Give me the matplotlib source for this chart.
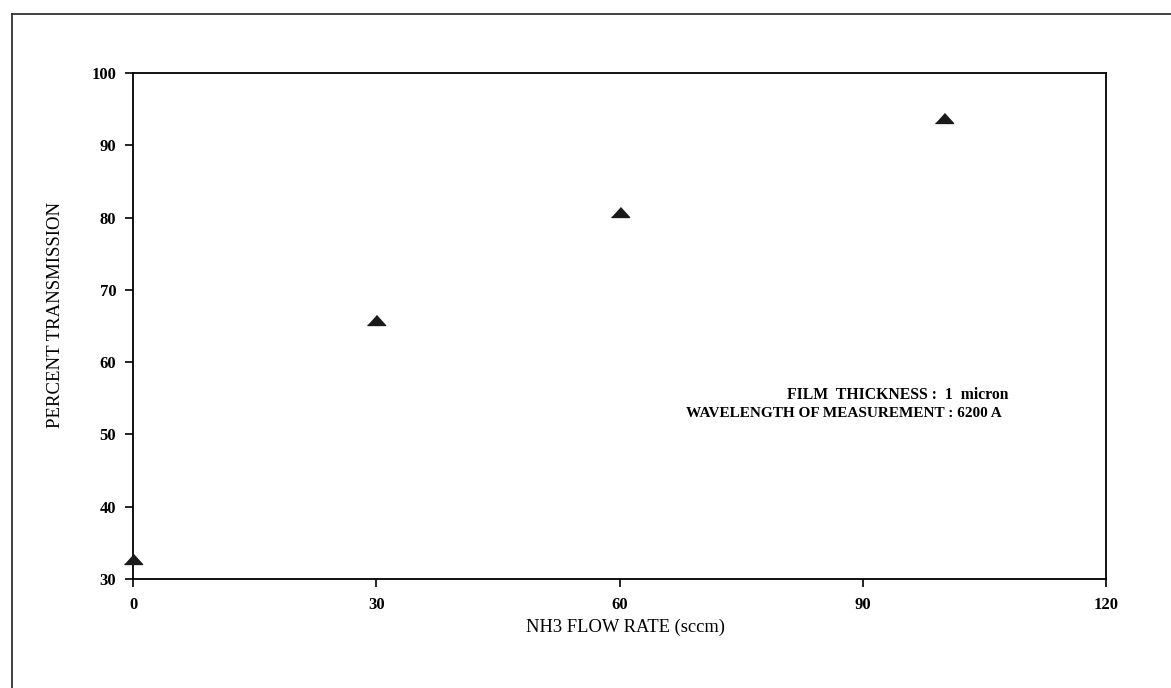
import matplotlib
matplotlib.use("Agg")
import matplotlib.pyplot as plt
from matplotlib.lines import Line2D

# NH3 flow rate (sccm) and measured percent transmission
flow_rate = [0, 30, 60, 100]
transmission = [32.7, 65.8, 80.8, 93.8]

x_ticks = [0, 30, 60, 90, 120]
y_ticks = [30, 40, 50, 60, 70, 80, 90, 100]

plt.rcParams['font.family'] = ['Liberation Serif', 'DejaVu Serif']

W, H = 1171, 688
fig = plt.figure(figsize=(W / 100, H / 100), dpi=100)
fig.patch.set_facecolor('white')

# page frame (left and top edges)
fx = 12 / W
fy = 1 - 14 / H
fig.add_artist(Line2D([fx, fx], [0, fy], transform=fig.transFigure,
                      color='#333333', lw=1.3))
fig.add_artist(Line2D([fx, 1.0], [fy, fy], transform=fig.transFigure,
                      color='#333333', lw=1.3))

left, right, top, bottom = 133, 1106, 73, 579
ax = fig.add_axes([left / W, 1 - bottom / H, (right - left) / W, (bottom - top) / H])

tri = [(-1, -0.55), (1, -0.55), (0, 0.55)]
ax.plot(flow_rate, transmission, linestyle='none', marker=tri, markersize=13,
        color='#1a1a1a', clip_on=False, zorder=5)

ax.set_xlim(0, 120)
ax.set_ylim(30, 100)
ax.set_xticks(x_ticks)
ax.set_yticks(y_ticks)
ax.tick_params(direction='out', length=6, width=1.2, color='black', pad=7,
               labelsize=12)
ax.tick_params(axis='y', pad=6)
for lab in ax.get_xticklabels() + ax.get_yticklabels():
    lab.set_fontweight('bold')
for s in ax.spines.values():
    s.set_linewidth(1.3)
    s.set_color('black')

ax.set_xlabel('NH3 FLOW RATE (sccm)', fontsize=13.3, labelpad=4)
ax.set_ylabel('PERCENT TRANSMISSION', fontsize=13.5, labelpad=20)
ax.xaxis.label.set_x(0.506)
ax.yaxis.label.set_y(0.522)

ax.text(0.900, 0.364, 'FILM  THICKNESS :  1  micron', transform=ax.transAxes,
        ha='right', va='center', fontsize=11.3, fontweight='bold')
ax.text(0.893, 0.328, 'WAVELENGTH OF MEASUREMENT : 6200 A', transform=ax.transAxes,
        ha='right', va='center', fontsize=11, fontweight='bold')

fig.savefig('out.png', dpi=100, facecolor='white')
